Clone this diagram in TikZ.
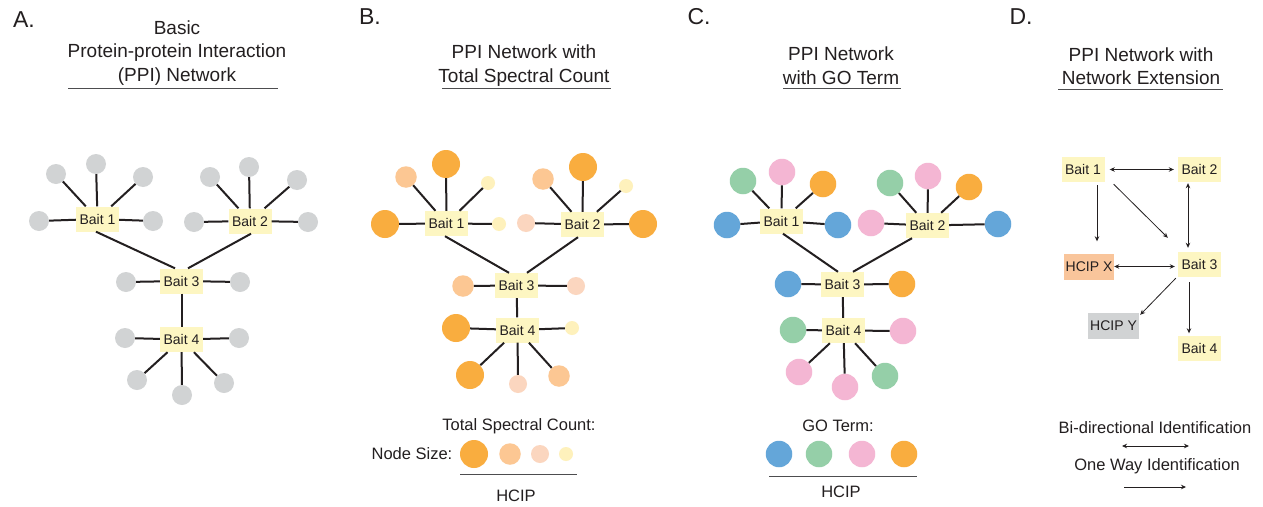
\documentclass[tikz,border=0pt]{standalone}
\usepackage{fontspec}
\setmainfont{Liberation Sans}
\usetikzlibrary{arrows.meta}
\definecolor{txt}{HTML}{231F20}
\definecolor{baitY}{HTML}{FDF6C2}
\definecolor{grayc}{HTML}{D1D3D4}
\definecolor{orangeD}{HTML}{F9AD3F}
\definecolor{peachM}{HTML}{FCC793}
\definecolor{peachL}{HTML}{FBD6BF}
\definecolor{yellowS}{HTML}{FEF1BC}
\definecolor{blueC}{HTML}{64A6D9}
\definecolor{greenC}{HTML}{95CFA8}
\definecolor{pinkC}{HTML}{F4B6D3}
\definecolor{hcipX}{HTML}{F9C59B}
\definecolor{ulinec}{HTML}{4D4D4F}
\tikzset{
  bait/.style={rectangle, fill=baitY, minimum width=43pt, minimum height=25pt, inner sep=0pt,
    font=\fontsize{14}{16}\selectfont, text=txt},
  hcip/.style={rectangle, minimum width=50pt, minimum height=26pt, inner sep=0pt,
    font=\fontsize{14}{16}\selectfont, text=txt},
  ball/.style={circle, inner sep=0pt, minimum size=#1, draw=none},
  gr/.style={ball=20pt, fill=grayc},
  sL/.style={ball=28pt, fill=orangeD},
  sM/.style={ball=21.5pt, fill=peachM},
  sS/.style={ball=18pt, fill=peachL},
  sT/.style={ball=14pt, fill=yellowS},
  cBlue/.style={ball=26.5pt, fill=blueC},
  cGreen/.style={ball=26.5pt, fill=greenC},
  cPink/.style={ball=26.5pt, fill=pinkC},
  cOrange/.style={ball=26.5pt, fill=orangeD},
  spoke/.style={line width=2pt, draw=txt},
  ttl/.style={font=\fontsize{19}{23.5}\selectfont, align=center, text=txt, inner sep=0pt},
  leg/.style={font=\fontsize{16.5}{19}\selectfont, text=txt, inner sep=0pt},
  letter/.style={font=\fontsize{23}{26}\selectfont, text=txt, inner sep=0pt},
  uline/.style={line width=1pt, draw=ulinec},
  one/.style={-{Stealth[length=5pt,width=4.5pt]}, line width=0.8pt, draw=txt},
  bi/.style={{Stealth[length=5pt,width=4.5pt]}-{Stealth[length=5pt,width=4.5pt]}, line width=0.8pt, draw=txt}
}
\begin{document}
\begin{tikzpicture}[x=1pt,y=-1pt]
\useasboundingbox (0,0) rectangle (1263,506);
\fill[white] (0,0) rectangle (1263,506);

% ---------------- Panel A ----------------
\node[letter] (lA) at (24,20) {A.};
\node[ttl] (tA) at (177,53) {Basic\\Protein-protein Interaction\\(PPI) Network};
\draw[uline] (68,88.7) -- (278,88.7);

\node[bait] (a1) at (97.5,219) {Bait 1};
\node[bait] (a2) at (250,221) {Bait 2};
\node[bait] (a3) at (181.5,281) {Bait 3};
\node[bait] (a4) at (181.5,339.5) {Bait 4};
\foreach \n/\x/\y in {a1p1/56/174, a1p2/96/164, a1p3/143/177, a1p4/39/221, a1p5/153/221,
                      a2p1/210/177, a2p2/249/167, a2p3/297/180, a2p4/194/222, a2p5/308/222,
                      a3p1/126/282, a3p2/240/282,
                      a4p1/125/338, a4p2/239/338, a4p3/137/380, a4p4/182/395, a4p5/224/383}
  \node[gr] (\n) at (\x,\y) {};
\foreach \b/\n in {a1/a1p1, a1/a1p2, a1/a1p3, a1/a1p4, a1/a1p5,
                   a2/a2p1, a2/a2p2, a2/a2p3, a2/a2p4, a2/a2p5,
                   a3/a3p1, a3/a3p2,
                   a4/a4p1, a4/a4p2, a4/a4p3, a4/a4p4, a4/a4p5}
  \draw[spoke] (\b) -- (\n);
\draw[spoke] ([xshift=-1.5pt]a1.south) -- ([xshift=-6.5pt]a3.north);
\draw[spoke] ([xshift=1pt]a2.south) -- ([xshift=6.5pt]a3.north);
\draw[spoke] (a3) -- (a4);

% ---------------- Panel B ----------------
\node[letter] (lB) at (370,17) {B.};
\node[ttl] (tB) at (524,65.5) {PPI Network with\\Total Spectral Count};
\draw[uline] (442,88.7) -- (611,88.7);

\node[bait] (b1) at (446.5,223.5) {Bait 1};
\node[bait] (b2) at (582.5,224.5) {Bait 2};
\node[bait] (b3) at (516.5,285.5) {Bait 3};
\node[bait] (b4) at (517.5,330) {Bait 4};
\foreach \n/\x/\y/\s in {b1p1/406/177/sM, b1p2/446/164/sL, b1p3/488/183/sT, b1p4/385/224/sL, b1p5/499/224/sT,
                         b2p1/543/179/sM, b2p2/583/167/sL, b2p3/626/186/sT, b2p4/526/223/sS, b2p5/643/224/sL,
                         b3p1/463/286/sM, b3p2/576/286/sS,
                         b4p1/456/328/sL, b4p2/572/328/sT, b4p3/470/375/sL, b4p4/518/384/sS, b4p5/559/376/sM}
  \node[\s] (\n) at (\x,\y) {};
\foreach \b/\n in {b1/b1p1, b1/b1p2, b1/b1p3, b1/b1p4, b1/b1p5,
                   b2/b2p1, b2/b2p2, b2/b2p3, b2/b2p4, b2/b2p5,
                   b3/b3p1, b3/b3p2,
                   b4/b4p1, b4/b4p2, b4/b4p3, b4/b4p4, b4/b4p5}
  \draw[spoke] (\b) -- (\n);
\draw[spoke] ([xshift=-1.5pt]b1.south) -- ([xshift=-7.5pt]b3.north);
\draw[spoke] ([xshift=-4.5pt]b2.south) -- ([xshift=10.5pt]b3.north);
\draw[spoke] (b3) -- (b4);

\node[leg] (tsc) at (519,426) {Total Spectral Count:};
\node[leg] (nsz) at (412,454) {Node Size:};
\node[sL] (bl1) at (474,454) {};
\node[sM] (bl2) at (510,454) {};
\node[sS] (bl3) at (540,454) {};
\node[sT] (bl4) at (566,454) {};
\draw[uline] (460,474) -- (577,474);
\node[leg] (hB) at (516,496) {HCIP};

% ---------------- Panel C ----------------
\node[letter] (lC) at (699,17) {C.};
\node[ttl] (tC) at (841,65.5) {PPI Network\\with GO Term};
\draw[uline] (783,88.7) -- (901,88.7);

\node[bait] (c1) at (781.5,221) {Bait 1};
\node[bait] (c2) at (927.5,225.5) {Bait 2};
\node[bait] (c3) at (842.5,284.5) {Bait 3};
\node[bait] (c4) at (843.5,330.5) {Bait 4};
\foreach \n/\x/\y/\s in {c1p1/743/181/cGreen, c1p2/782/172/cPink, c1p3/823/184/cOrange, c1p4/727/225/cBlue, c1p5/838/225/cBlue,
                         c2p1/890/183/cGreen, c2p2/928/176/cPink, c2p3/969/187/cOrange, c2p4/871/223/cPink, c2p5/998/224/cBlue,
                         c3p1/788/284/cBlue, c3p2/902/284/cOrange,
                         c4p1/793/330/cGreen, c4p2/903/331/cPink, c4p3/799/372/cPink, c4p4/845/387/cPink, c4p5/885/376/cGreen}
  \node[\s] (\n) at (\x,\y) {};
\foreach \b/\n in {c1/c1p1, c1/c1p2, c1/c1p3, c1/c1p4, c1/c1p5,
                   c2/c2p1, c2/c2p2, c2/c2p3, c2/c2p4, c2/c2p5,
                   c3/c3p1, c3/c3p2,
                   c4/c4p1, c4/c4p2, c4/c4p3, c4/c4p4, c4/c4p5}
  \draw[spoke] (\b) -- (\n);
\draw[spoke] ([xshift=1.5pt]c1.south) -- ([xshift=-4.5pt]c3.north);
\draw[spoke] ([xshift=-15.5pt]c2.south) -- ([xshift=10.5pt]c3.north);
\draw[spoke] (c3) -- (c4);

\node[leg] (got) at (838,426) {GO Term:};
\node[cBlue] (cl1) at (779,454) {};
\node[cGreen] (cl2) at (819,454) {};
\node[cPink] (cl3) at (862,454) {};
\node[cOrange] (cl4) at (904,454) {};
\draw[uline] (769,476) -- (917,476);
\node[leg] (hC) at (841,492) {HCIP};

% ---------------- Panel D ----------------
\node[letter] (lD) at (1021,17) {D.};
\node[ttl] (tD) at (1141,66) {PPI Network with\\Network Extension};
\draw[uline] (1058,89) -- (1223,89);

\node[bait] (d1) at (1083,169.5) {Bait 1};
\node[bait] (d2) at (1199.5,169.5) {Bait 2};
\node[bait] (d3) at (1199.5,264.5) {Bait 3};
\node[bait] (d4) at (1199.5,348) {Bait 4};
\node[hcip, fill=hcipX] (hx) at (1089,266.5) {HCIP X};
\node[hcip, fill=grayc, minimum width=51pt] (hy) at (1113.5,326) {HCIP Y};

\draw[bi] ([xshift=5pt]d1.east) -- ([xshift=-4pt]d2.west);
\draw[one] ([xshift=14pt,yshift=-3pt]d1.south) -- ([xshift=8pt,yshift=12pt]hx.north);
\draw[one] ([xshift=9pt,yshift=-2pt]d1.south east) -- ([xshift=-10pt,yshift=14pt]d3.north west);
\draw[bi] ([xshift=-11.5pt,yshift=-1pt]d2.south) -- ([xshift=-11.5pt,yshift=4pt]d3.north);
\draw[bi] (hx.east) -- ([xshift=-3pt]hx.east -| d3.west);
\draw[one] ([xshift=-2pt,yshift=-1pt]d3.south west) -- ([xshift=1pt,yshift=-2pt]hy.north east);
\draw[one] ([xshift=-10.5pt,yshift=-5pt]d3.south) -- ([xshift=-10.5pt,yshift=2pt]d4.north);

\node[leg] (lbi) at (1155,428) {Bi-directional Identification};
\coordinate (bia) at (1122,446);
\coordinate (bib) at (1189,446);
\draw[bi] (bia) -- (bib);
\node[leg] (low) at (1157,466) {One Way Identification};
\coordinate (owa) at (1124,487);
\coordinate (owb) at (1186,487);
\draw[one] (owa) -- (owb);
\end{tikzpicture}
\end{document}
